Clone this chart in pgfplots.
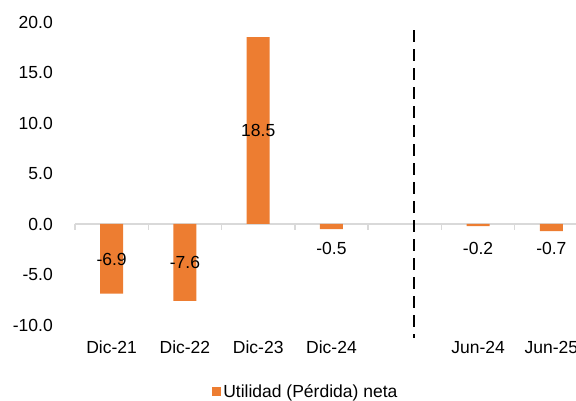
\documentclass[border=0pt]{standalone}
\usepackage{pgfplots}
\pgfplotsset{compat=1.18}
\usepackage{fontspec}
\setmainfont{Liberation Sans}
\definecolor{barorange}{HTML}{ED7D31}
\definecolor{axgray}{HTML}{D9D9D9}
\begin{document}
\fontsize{17.5}{21}\selectfont
\begin{tikzpicture}
\begin{axis}[
  scale only axis, width=513pt, height=303pt,
  xmin=-0.5, xmax=6.5, ymin=-10, ymax=20,
  clip=false,
  axis line style={draw=none},
  tick style={draw=none},
  xtick={0,1,2,3,5,6},
  xticklabels={Dic-21,Dic-22,Dic-23,Dic-24,Jun-24,Jun-25},
  ytick={-10,-5,0,5,10,15,20},
  yticklabels={-10.0,-5.0,0.0,5.0,10.0,15.0,20.0},
  ticklabel style={font=\fontsize{17.5}{21}\selectfont, inner sep=0pt},
  yticklabel style={anchor=east, xshift=-22pt},
  xticklabel style={anchor=base, yshift=-29pt},
  legend style={draw=none, fill=none, at={(0.45,-0.221)}, anchor=center,
    font=\fontsize{17.5}{21}\selectfont},
  legend image code/.code={\fill[barorange] (0pt,-4.5pt) rectangle (9pt,4.5pt);},
]
% axis line at zero with ticks
\draw[axgray, line width=1.5pt] (axis cs:-0.5,0) -- (axis cs:7,0);
\pgfplotsinvokeforeach{-0.5,0.5,1.5,2.5,3.5,4.5,5.5,6.5}{
  \draw[axgray, line width=1.5pt] (axis cs:#1,0) -- (axis cs:#1,-0.6);
}
\addplot[ybar, bar width=23pt, fill=barorange, draw=none] coordinates {
  (0,-6.9) (1,-7.6) (2,18.5) (3,-0.5) (5,-0.2) (6,-0.7)
};
\addlegendentry{Utilidad (Pérdida) neta}
\addplot[draw=none, forget plot, nodes near coords, point meta=explicit symbolic,
  every node near coord/.append style={anchor=center, inner sep=0pt, font=\fontsize{17.5}{21}\selectfont}]
  coordinates {
  (0,-3.5) [-6.9]
  (1,-3.8) [-7.6]
  (2,9.25) [18.5]
  (3,-2.4) [-0.5]
  (5,-2.4) [-0.2]
  (6,-2.4) [-0.7]
};
\draw[black, line width=2.3pt, dash pattern=on 12pt off 7pt] (axis cs:4.13,19.2) -- (axis cs:4.13,-11.3);
\coordinate (O) at (axis cs:-0.5,-10);
\end{axis}
\pgfresetboundingbox
\path[use as bounding box] (O) ++(-75pt,-76pt) rectangle ++(576pt,401pt);
\end{tikzpicture}
\end{document}
